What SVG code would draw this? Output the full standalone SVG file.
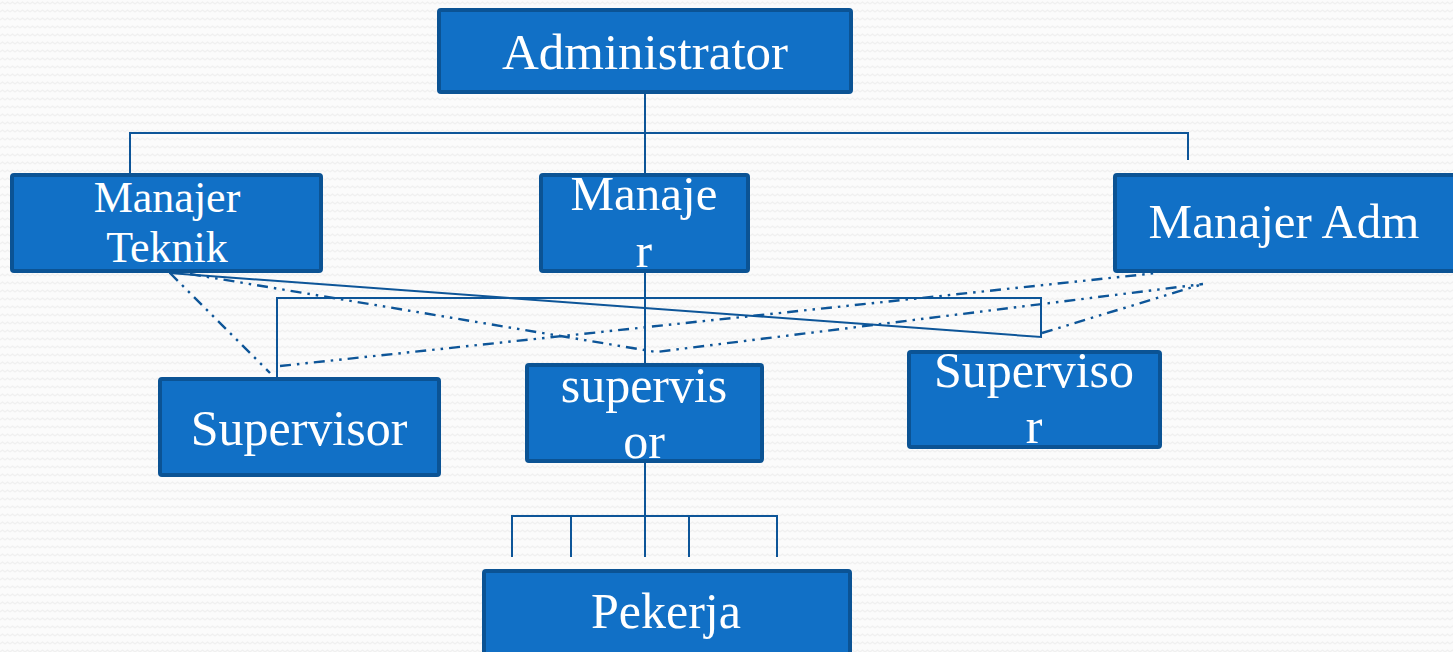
<svg xmlns="http://www.w3.org/2000/svg" width="1453" height="652" viewBox="0 0 1453 652">
  <defs>
    <pattern id="bg" width="10" height="8" patternUnits="userSpaceOnUse">
      <rect width="10" height="8" fill="#fbfbfb"/>
      <path d="M0 4 L2.5 2 L5 4 L7.5 2 L10 4" fill="none" stroke="#f0f0f0" stroke-width="1.2"/>
    </pattern>
  </defs>
  <style>
    .box { fill: #1170c6; stroke: #0b5394; stroke-width: 4; }
    .t { font-family: "Liberation Serif", "Times New Roman", serif; fill: #ffffff; text-anchor: middle; }
    .c { fill: none; stroke: #0d5598; stroke-width: 2; }
    .dd { fill: none; stroke: #0d5598; stroke-width: 2.4; stroke-dasharray: 11 6 2.5 6 2.5 6; }
  </style>
  <rect width="1453" height="652" fill="url(#bg)"/>

  <g id="connectors">
    <path class="c" d="M645 94 V175"/>
    <path class="c" d="M130 175 V133 H1188 V160"/>
    <path class="c" d="M645 271 V365"/>
    <path class="c" d="M169 273 L1041 337 V298 H277 V378"/>
    <path class="c" d="M645 461 V557"/>
    <path class="c" d="M512 557 V516 H777 V557 M571 516 V557 M689 516 V557"/>
    <path class="dd" d="M170 273 L270 373"/>
    <path class="dd" d="M190 274 L656 352 L1203 284"/>
    <path class="dd" d="M280 366 L1157 273"/>
    <path class="dd" d="M1042 333 L1203 284"/>
  </g>

  <g id="administrator">
    <rect class="box" x="439" y="10" width="412" height="82" rx="2"/>
    <text class="t" x="645" y="69" font-size="51">Administrator</text>
  </g>
  <g id="manajer-teknik">
    <rect class="box" x="12" y="175" width="309" height="96" rx="2"/>
    <text class="t" x="167" y="212" font-size="44">Manajer</text>
    <text class="t" x="167" y="262" font-size="44">Teknik</text>
  </g>
  <g id="manajer">
    <rect class="box" x="541" y="175" width="207" height="96" rx="2"/>
    <text class="t" x="644" y="210" font-size="49">Manaje</text>
    <text class="t" x="644" y="267" font-size="49">r</text>
  </g>
  <g id="manajer-adm">
    <rect class="box" x="1115" y="175" width="340" height="96" rx="2"/>
    <text class="t" x="1284" y="238" font-size="49">Manajer Adm</text>
  </g>
  <g id="supervisor-left">
    <rect class="box" x="160" y="379" width="279" height="96" rx="2"/>
    <text class="t" x="299" y="445" font-size="50">Supervisor</text>
  </g>
  <g id="supervisor-center">
    <rect class="box" x="527" y="365" width="235" height="96" rx="2"/>
    <text class="t" x="644" y="402" font-size="50">supervis</text>
    <text class="t" x="644" y="458" font-size="50">or</text>
  </g>
  <g id="supervisor-right">
    <rect class="box" x="909" y="352" width="251" height="95" rx="2"/>
    <text class="t" x="1034" y="387" font-size="50">Superviso</text>
    <text class="t" x="1034" y="443" font-size="50">r</text>
  </g>
  <g id="pekerja">
    <rect class="box" x="484" y="571" width="366" height="90" rx="2"/>
    <text class="t" x="666" y="628" font-size="50">Pekerja</text>
  </g>
</svg>
